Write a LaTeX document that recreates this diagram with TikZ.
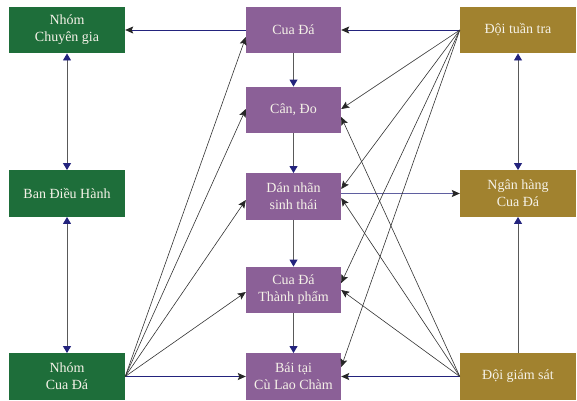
\documentclass[tikz,border=0pt]{standalone}
\usepackage{fontspec}
\setmainfont{Liberation Serif}
\usetikzlibrary{arrows.meta}
\definecolor{boxgreen}{RGB}{30,110,58}
\definecolor{boxpurple}{RGB}{139,96,151}
\definecolor{boxgold}{RGB}{161,130,47}
\definecolor{navyline}{RGB}{35,35,125}
\definecolor{lightnavy}{RGB}{95,95,160}
\definecolor{txtcol}{RGB}{245,242,232}
\begin{document}
\begin{tikzpicture}[x=1pt,y=-1pt,
  box/.style={minimum height=46.5pt, inner sep=0pt, align=center, text=txtcol,
    font=\fontsize{14}{17}\selectfont},
  gbox/.style={box, fill=boxgreen, minimum width=116pt},
  pbox/.style={box, fill=boxpurple, minimum width=95pt},
  ybox/.style={box, fill=boxgold, minimum width=116pt},
  vtip/.style={Triangle[width=8pt,length=7pt,fill=navyline,color=navyline]},
  vconn/.style={draw=black!65, line width=0.9pt, -{Triangle[width=8pt,length=7pt,fill=navyline,color=navyline]}},
  vconnb/.style={draw=black!65, line width=0.9pt, {Triangle[width=8pt,length=7pt,fill=navyline,color=navyline]}-{Triangle[width=8pt,length=7pt,fill=navyline,color=navyline]}},
  hconn/.style={draw=navyline, line width=0.8pt, -{Stealth[length=8pt,width=7pt,inset=1.5pt,fill=black!85,color=black!85]}},
  hconnl/.style={draw=lightnavy, line width=0.8pt, -{Stealth[length=8pt,width=7pt,inset=1.5pt,fill=black!85,color=black!85]}},
  dconn/.style={draw=black!80, line width=0.6pt, -{Stealth[length=8pt,width=7pt,inset=1.5pt,fill=black!85,color=black!85]}}
]
\useasboundingbox (0,0) rectangle (577,400);

\node[gbox] (ncg) at (67,30) {Nhóm\\Chuyên gia};
\node[gbox] (bdh) at (67,193.5) {Ban Điều Hành};
\node[gbox] (ncd) at (67,376.5) {Nhóm\\Cua Đá};
\node[pbox] (cuada) at (293.5,30) {Cua Đá};
\node[pbox] (cando) at (293.5,110) {Cân, Đo};
\node[pbox] (dannhan) at (293.5,196.5) {Dán nhãn\\sinh thái};
\node[pbox] (thanhpham) at (293.5,290) {Cua Đá\\Thành phẩm};
\node[pbox] (bai) at (293.5,376.5) {Bái tại\\Cù Lao Chàm};
\node[ybox] (dtt) at (518,30) {Đội tuần tra};
\node[ybox] (nh) at (518,193.5) {Ngân hàng\\Cua Đá};
\node[ybox] (dgs) at (518,376.5) {Đội giám sát};

% horizontal connectors
\draw[hconn] (cuada.west) -- (ncg.east);
\draw[hconn] (dtt.west) -- (cuada.east);
\draw[hconn] (ncd.east) -- (bai.west);
\draw[hconn] (dgs.west) -- (bai.east);
\draw[hconnl] (dannhan.east |- nh.west) -- (nh.west);

% vertical connectors
\draw[vconnb] (ncg.south) -- (bdh.north);
\draw[vconnb] (bdh.south) -- (ncd.north);
\draw[vconnb] (dtt.south) -- (nh.north);
\draw[vconn] (dgs.north) -- (nh.south);
\draw[vconn] (cuada.south) -- (cando.north);
\draw[vconn] (cando.south) -- (dannhan.north);
\draw[vconn] (dannhan.south) -- (thanhpham.north);
\draw[vconn] (thanhpham.south) -- (bai.north);

% diagonals from Nhom Cua Da
\draw[dconn] (ncd.east) -- ([yshift=-7pt]cuada.west);
\draw[dconn] (ncd.east) -- ([yshift=1pt]cando.west);
\draw[dconn] (ncd.east) -- ([yshift=-3.5pt]dannhan.west);
\draw[dconn] (ncd.east) -- ([yshift=-2pt]thanhpham.west);

% diagonals from Doi tuan tra
\draw[dconn] (dtt.west) -- ([yshift=1pt]cando.east);
\draw[dconn] (dtt.west) -- ([yshift=7.5pt]dannhan.east);
\draw[dconn] (dtt.west) -- ([yshift=7pt]thanhpham.east);
\draw[dconn] (dtt.west) -- ([yshift=9.5pt]bai.east);

% diagonals from Doi giam sat
\draw[dconn] (dgs.west) -- ([yshift=-7pt]cando.east);
\draw[dconn] (dgs.west) -- ([yshift=-1.5pt]dannhan.east);
\draw[dconn] (dgs.west) -- (thanhpham.east);
\end{tikzpicture}
\end{document}
